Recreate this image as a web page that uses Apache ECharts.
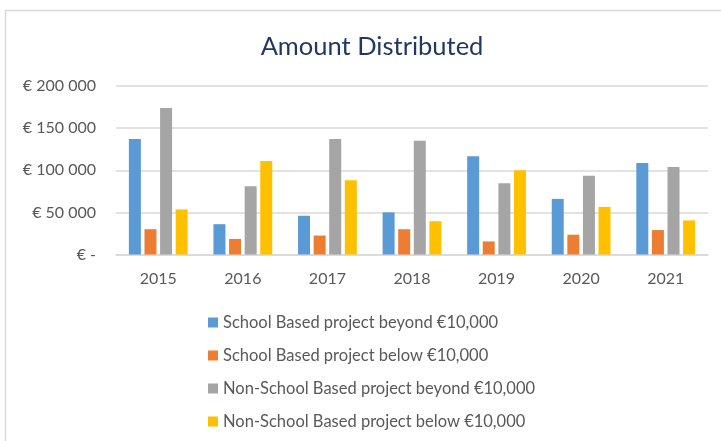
<!DOCTYPE html>
<html>
<head>
<meta charset="utf-8">
<script src="https://cdn.jsdelivr.net/npm/echarts@6/dist/echarts.min.js"></script>
<style>
  html, body { margin: 0; padding: 0; background: #fff; }
  #chart { width: 721px; height: 441px; }
</style>
</head>
<body>
<div id="chart"></div>
<script>
// chart data
const years = ['2015', '2016', '2017', '2018', '2019', '2020', '2021'];
const schoolBeyond = [137000, 36000, 46000, 50000, 116500, 66000, 108500];
const schoolBelow = [30000, 18500, 22500, 30000, 15500, 23500, 29000];
const nonSchoolBeyond = [174000, 81000, 137000, 135000, 84500, 93500, 104000];
const nonSchoolBelow = [53500, 111000, 88000, 39500, 100000, 56500, 40500];
const seriesNames = [
  'School Based project beyond €10,000',
  'School Based project below €10,000',
  'Non-School Based project beyond €10,000',
  'Non-School Based project below €10,000'
];
const colors = ['#5B9BD5', '#ED7D31', '#A5A5A5', '#FFC000'];

const font = 'Lato, "Open Sans", sans-serif';

const chart = echarts.init(document.getElementById('chart'));

// y tick label like "€ 150 000", zero shown as "€ -"
const fmtEuro = (v) => {
  if (v === 0) return '€ -';
  return '€ ' + String(v).replace(/\B(?=(\d{3})+(?!\d))/g, ' ');
};

const makeSeries = (name, data, color) => ({
  name: name,
  type: 'bar',
  data: data,
  barWidth: 12,
  barGap: '30%',
  itemStyle: { color: color },
  emphasis: { disabled: true }
});

const options = {
  animation: false,
  backgroundColor: '#fff',
  color: colors,
  title: {
    text: 'Amount Distributed',
    left: 367,
    textAlign: 'center',
    top: 29,
    textStyle: {
      color: '#1F3864',
      fontFamily: font,
      fontWeight: 'normal',
      fontSize: 25.5
    }
  },
  graphic: [{
    type: 'rect',
    shape: { x: 5.5, y: 10.5, width: 760, height: 500 },
    style: { fill: 'none', stroke: '#D9D9D9', lineWidth: 1.5 },
    silent: true
  }],
  grid: {
    left: 116,
    right: 13,
    top: 86,
    height: 168.5
  },
  legend: {
    orient: 'vertical',
    left: 203,
    top: 309,
    itemWidth: 10,
    itemHeight: 10,
    itemGap: 16,
    icon: 'rect',
    textStyle: {
      color: '#595959',
      fontFamily: font,
      fontSize: 16.5
    },
    data: seriesNames
  },
  xAxis: {
    type: 'category',
    data: years,
    axisTick: { show: false },
    axisLine: { lineStyle: { color: '#D9D9D9', width: 1.5 } },
    axisLabel: {
      color: '#595959',
      fontFamily: font,
      fontSize: 16,
      margin: 16
    }
  },
  yAxis: {
    type: 'value',
    min: 0,
    max: 200000,
    interval: 50000,
    axisLine: { show: false },
    axisTick: { show: false },
    splitLine: { lineStyle: { color: '#D9D9D9', width: 1.5 } },
    axisLabel: {
      color: '#595959',
      fontFamily: font,
      fontSize: 16,
      margin: 20,
      formatter: fmtEuro
    }
  },
  series: [
    makeSeries(seriesNames[0], schoolBeyond, colors[0]),
    makeSeries(seriesNames[1], schoolBelow, colors[1]),
    makeSeries(seriesNames[2], nonSchoolBeyond, colors[2]),
    makeSeries(seriesNames[3], nonSchoolBelow, colors[3])
  ]
};

chart.setOption(options);
</script>
</body>
</html>
